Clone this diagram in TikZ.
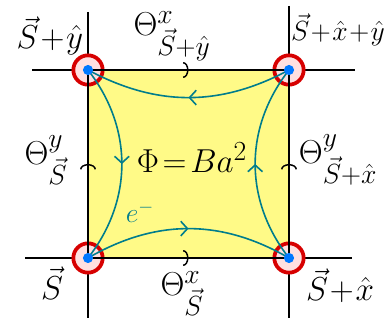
\documentclass[tikz,border=0pt]{standalone}
\usepackage{amsmath,amssymb}
\usepackage{xcolor}
\usetikzlibrary{arrows.meta}
\usetikzlibrary{decorations.markings}
\definecolor{plaqyellow}{RGB}{255,250,135}
\definecolor{hopteal}{RGB}{0,125,140}
\definecolor{siteblue}{RGB}{0,120,255}
\definecolor{ringred}{RGB}{215,0,0}

\begin{document}
\begin{tikzpicture}[x=0.75pt,y=-0.75pt,
  site/.style={circle,draw=ringred,line width=2.8pt,fill=red!12,minimum size=22pt,inner sep=0pt},
  grid/.style={line width=1.1pt},
  bond/.style={line width=1.1pt,postaction={decorate},
    decoration={markings,mark=at position 0.5 with {\arrow{Arc Barb[length=4pt,width=12pt]}}}},
  hop/.style={draw=hopteal,line width=1.2pt,postaction={decorate},
    decoration={markings,mark=at position 0.5 with {\arrow[hopteal]{Straight Barb[length=5pt,width=11pt]}}}},
  lbl/.style={font=\Huge,inner sep=1pt}]
\useasboundingbox (0,0) rectangle (385,320);
% plaquette
\fill[plaqyellow] (88,70) rectangle (289,258);
% free ends of the lattice lines
\coordinate (tw) at (32,70);  \coordinate (te) at (355,70);
\coordinate (bw) at (25,258); \coordinate (be) at (352,258);
\coordinate (ln) at (88,12);  \coordinate (ls) at (88,318);
\coordinate (rn) at (289,6);  \coordinate (rs) at (289,318);
\draw[grid] (tw) -- (te);
\draw[grid] (bw) -- (be);
\draw[grid] (ln) -- (ls);
\draw[grid] (rn) -- (rs);
% sites
\node[site] (ll) at (88,258) {};
\node[site] (lr) at (289,258) {};
\node[site] (ul) at (88,70) {};
\node[site] (ur) at (289,70) {};
% links
\draw[bond] (ll.center) -- (lr.center);
\draw[bond] (ul.center) -- (ur.center);
\draw[bond] (ll.center) -- (ul.center);
\draw[bond] (lr.center) -- (ur.center);
% electron path
\draw[hop] (ll.center) to[bend left=30] (lr.center);
\draw[hop] (lr.center) to[bend left=38] (ur.center);
\draw[hop] (ur.center) to[bend left=28] (ul.center);
\draw[hop] (ul.center) to[bend left=38] (ll.center);
\foreach \s in {ll,lr,ul,ur}
  \fill[siteblue] (\s) circle (3.8pt);
% labels
\node[lbl] (sy) at (50,36) {$\vec{S}\!+\!\hat{y}$};
\node[lbl] (txy) at (172,36) {$\Theta^{x}_{\vec{S}+\hat{y}}$};
\node[lbl,font=\huge] (sxy) at (338,30) {$\vec{S}\!+\!\hat{x}\!+\!\hat{y}$};
\node[lbl] (tys) at (46,160) {$\Theta^{y}_{\vec{S}}$};
\node[lbl] (flux) at (192,158) {$\Phi\!=\!Ba^{2}$};
\node[lbl] (tyx) at (338,160) {$\Theta^{y}_{\vec{S}+\hat{x}}$};
\node[lbl,font=\huge,text=hopteal] (el) at (140,212) {$e^{-}$};
\node[lbl] (s0) at (52,283) {$\vec{S}$};
\node[lbl] (txs) at (182,294) {$\Theta^{x}_{\vec{S}}$};
\node[lbl] (sx) at (340,286) {$\vec{S}\!+\!\hat{x}$};
\end{tikzpicture}
\end{document}
